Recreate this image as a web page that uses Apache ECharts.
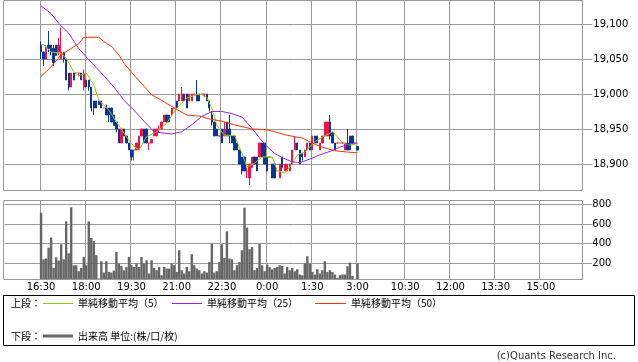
<!DOCTYPE html>
<html><head><meta charset="utf-8">
<script src="https://cdn.jsdelivr.net/npm/echarts@6/dist/echarts.min.js"></script>
<style>html,body{margin:0;padding:0;background:#fff}#c{width:638px;height:362px}</style>
</head><body><div id="c"></div>
<script>
// ---- data ----
const slotCount = 230;          // 5-minute slots on the x axis
const firstSlot = 14;           // slot of the 16:30 bar
const tickSlots = [14, 32, 50, 68, 86, 104, 122, 140, 159, 177, 195, 213];
const tickLabels = ['16:30','18:00','19:30','21:00','22:30','0:00','1:30','3:00','10:30','12:00','13:30','15:00'];
const priceTicks = [18900, 18950, 19000, 19050, 19100];
const volumeTicks = [200, 400, 600, 800];

const opens = [19070,19060,19050,19070,19070,19065,19070,19060,19050,19060,
 19050,19030,19010,19030,19030,19030,19030,19010,19020,19020,
 19010,18990,18990,18990,18990,18980,18980,18980,18980,18970,
 18960,18950,18930,18950,18940,18930,18920,18920,18920,18920,
 18940,18950,18950,18930,18930,18940,18940,18950,18950,18960,
 18970,18970,18970,18980,18990,18990,18990,19000,19000,18990,
 18990,19000,19000,19000,19000,19000,19000,18990,18970,18960,
 18950,18940,18950,18940,18960,18950,18940,18940,18930,18920,
 18910,18910,18890,18880,18895,18910,18910,18910,18930,18930,
 18910,18910,18900,18900,18890,18880,18910,18890,18890,18890,
 18900,18920,18930,18920,18915,18910,18920,18930,18920,18940,
 18940,18920,18930,18940,18940,18960,18945,18930,18930,18930,
 18930,18920,18930,18940,18940,18930,18925];
const closes = [19060,19050,19065,19065,19060,19045,19055,19070,19060,19050,
 19020,19010,19030,19020,19030,19030,19020,19030,19010,19010,
 18980,18980,18980,18985,18980,18980,18970,18970,18960,18955,
 18950,18930,18950,18940,18930,18920,18910,18920,18930,18940,
 18950,18930,18930,18930,18935,18950,18950,18950,18960,18970,
 18960,18960,18980,18980,18980,19000,19000,18990,18980,19000,
 19000,19000,18990,18990,19000,19000,18990,18980,18960,18940,
 18940,18940,18930,18950,18940,18940,18930,18920,18920,18900,
 18890,18890,18890,18900,18910,18900,18890,18930,18910,18900,
 18890,18910,18880,18880,18890,18900,18895,18900,18900,18900,
 18920,18930,18920,18900,18910,18920,18930,18920,18940,18930,
 18930,18930,18940,18960,18960,18940,18930,18920,18930,18930,
 18930,18930,18920,18920,18930,18930,18920];
const lows = [19050,19040,19050,19060,19055,19040,19055,19055,19050,19045,
 19020,19005,19010,19020,19030,19025,19020,19005,19010,19005,
 18975,18970,18980,18985,18980,18980,18970,18960,18960,18955,
 18945,18930,18930,18940,18930,18920,18905,18905,18920,18920,
 18940,18930,18930,18920,18930,18940,18940,18945,18950,18960,
 18960,18960,18970,18980,18980,18990,18990,18990,18980,18990,
 18990,19000,18990,18990,19000,18995,18990,18975,18955,18940,
 18940,18940,18930,18940,18940,18930,18930,18920,18920,18900,
 18885,18890,18880,18870,18895,18900,18890,18910,18910,18900,
 18890,18910,18880,18880,18890,18880,18890,18890,18890,18890,
 18900,18920,18920,18900,18905,18910,18920,18920,18920,18930,
 18930,18920,18930,18940,18940,18935,18930,18920,18930,18930,
 18930,18920,18920,18920,18930,18930,18920];
const highs = [19075,19060,19070,19090,19070,19070,19070,19080,19095,19060,
 19050,19030,19030,19030,19030,19030,19030,19035,19020,19020,
 19010,18990,18990,18990,18990,18980,18985,18980,18980,18970,
 18960,18950,18950,18950,18940,18930,18920,18920,18930,18940,
 18950,18950,18950,18930,18935,18950,18950,18955,18960,18970,
 18970,18970,18980,18980,18990,19000,19010,19000,19000,19000,
 19000,19000,19020,19000,19000,19000,19000,18990,18975,18960,
 18950,18940,18950,18960,18960,18970,18940,18940,18930,18920,
 18910,18910,18895,18900,18910,18910,18910,18930,18930,18930,
 18910,18910,18900,18900,18890,18900,18910,18900,18900,18900,
 18920,18940,18930,18920,18915,18920,18930,18930,18940,18940,
 18940,18930,18940,18960,18960,18970,18945,18930,18930,18930,
 18930,18930,18950,18940,18940,18930,18925];
const volumes = [715,237,245,357,459,149,258,224,391,237,
 626,299,770,176,176,115,149,262,176,626,
 456,422,279,40,217,101,217,108,101,122,
 313,193,169,125,159,262,176,159,193,159,
 262,193,227,91,227,149,125,159,74,159,
 142,142,193,176,108,330,125,91,159,115,
 289,176,142,125,91,115,101,210,398,101,
 115,210,391,251,524,245,237,125,176,210,
 330,766,562,340,364,125,149,398,176,115,
 183,159,135,149,159,176,169,91,159,125,
 149,115,135,81,74,193,268,193,108,81,
 135,91,125,217,108,125,108,81,47,74,
 81,81,166,203,67,30,193];
// moving averages read at sample bars: [bar index from 16:30, value]
const ma5 = [[0,19070],[1,19071],[4,19060],[8,19058],[10,19051],[13,19032],[15,19026],[18,19030],[21,19013],[23,18991],[27,18977],[30,18960],[34,18939],[37,18925],[39,18920],[42,18939],[46,18946],[50,18958],[54,18980],[58,18994],[62,18999],[64,18999],[66,18995],[68,18980],[70,18955],[73,18941],[77,18941],[80,18915],[82,18896],[85,18901],[88,18910],[92,18910],[94,18891],[97,18887],[100,18900],[102,18913],[105,18917],[109,18932],[112,18938],[116,18946],[118,18939],[120,18930],[123,18927],[126,18929]];
const ma25 = [[0,19126],[4,19115],[7,19101],[11,19087],[15,19065],[19,19049],[24,19030],[29,19010],[33,18991],[37,18977],[41,18961],[45,18946],[49,18944],[52,18943],[56,18946],[60,18956],[64,18968],[68,18975],[72,18975],[76,18972],[80,18967],[84,18951],[87,18937],[90,18925],[93,18915],[96,18909],[100,18903],[103,18902],[107,18907],[111,18913],[115,18918],[119,18924],[123,18929],[126,18930]];
const ma50 = [[0,19025],[4,19039],[8,19056],[12,19065],[15,19072],[17,19081],[23,19081],[25,19075],[28,19068],[31,19056],[33,19044],[37,19027],[41,19011],[44,18999],[48,18991],[53,18980],[58,18970],[64,18968],[66,18965],[72,18961],[77,18956],[84,18950],[90,18949],[98,18941],[104,18937],[108,18930],[112,18924],[117,18919],[122,18917],[126,18916]];

// ---- build ----
const categories = Array.from({length: slotCount}, (_, i) => 'b' + i);
const candleData = Array(slotCount).fill('-');
const volData = Array(slotCount).fill('-');
opens.forEach((o, i) => { candleData[firstSlot + i] = [o, closes[i], lows[i], highs[i]]; volData[firstSlot + i] = volumes[i]; });
const shift = pts => pts.map(([j, v]) => [firstSlot + j, v]);
const isTick = i => tickSlots.indexOf(i) >= 0;
const gridColor = '#9a9a9a';
const axisFont = {fontSize: 10, fontFamily: 'DejaVu Sans', color: '#000'};
const jp = '10px "Noto Sans CJK JP"';

const xBase = {
  type: 'category', data: categories, boundaryGap: true,
  axisLine: {show: false}, axisTick: {show: false},
  splitLine: {show: true, interval: (i) => isTick(i), lineStyle: {color: gridColor, width: 1}}
};
const chart = echarts.init(document.getElementById('c'), null, {renderer: 'canvas'});
chart.setOption({
  animation: false,
  backgroundColor: '#fff',
  grid: [
    {left: 4.64, top: 0.5, width: 577.67, height: 189.8},
    {left: 4.64, top: 200.5, width: 577.67, height: 79}
  ],
  xAxis: [
    Object.assign({}, xBase, {gridIndex: 0, axisLabel: {show: false}}),
    Object.assign({}, xBase, {gridIndex: 1, axisLabel: Object.assign({show: true, interval: (i) => isTick(i), margin: 3,
      formatter: (v, i) => tickLabels[tickSlots.indexOf(i)] || ''}, axisFont)})
  ],
  yAxis: [
    {type: 'value', gridIndex: 0, position: 'right', min: 18862.4, max: 19133.6, scale: true,
     axisLine: {show: false},
     axisTick: {show: true, length: 10, customValues: priceTicks, lineStyle: {color: gridColor}},
     axisLabel: Object.assign({customValues: priceTicks, margin: 11, formatter: v => v.toLocaleString('en-US')}, axisFont),
     splitLine: {show: true, lineStyle: {color: gridColor, width: 1}}},
    {type: 'value', gridIndex: 1, position: 'right', min: 30, max: 840,
     axisLine: {show: false},
     axisTick: {show: true, length: 10, customValues: volumeTicks, lineStyle: {color: gridColor}},
     axisLabel: Object.assign({customValues: volumeTicks, margin: 10}, axisFont),
     splitLine: {show: true, lineStyle: {color: gridColor, width: 1}}}
  ],
  series: [
    {type: 'candlestick', xAxisIndex: 0, yAxisIndex: 0, data: candleData, barWidth: 1.8, clip: true,
     itemStyle: {color: '#f0134a', color0: '#0a3699', borderColor: '#f0134a', borderColor0: '#0a3699', borderWidth: 1}},
    {type: 'line', xAxisIndex: 0, yAxisIndex: 0, data: shift(ma5), showSymbol: false, symbol: 'none', connectNulls: true, z: 4,
     lineStyle: {color: '#99cc00', width: 1}},
    {type: 'line', xAxisIndex: 0, yAxisIndex: 0, data: shift(ma25), showSymbol: false, symbol: 'none', connectNulls: true, z: 4,
     lineStyle: {color: '#9922ee', width: 1}},
    {type: 'line', xAxisIndex: 0, yAxisIndex: 0, data: shift(ma50), showSymbol: false, symbol: 'none', connectNulls: true, z: 4,
     lineStyle: {color: '#ff3300', width: 1}},
    {type: 'bar', xAxisIndex: 1, yAxisIndex: 1, data: volData, barWidth: 2.4, clip: true,
     itemStyle: {color: '#666666'}}
  ],
  graphic: [
    {type: 'rect', silent: true, z: 10, shape: {x: 3.5, y: 0.5, width: 579, height: 190}, style: {fill: 'none', stroke: gridColor, lineWidth: 1}},
    {type: 'rect', silent: true, z: 10, shape: {x: 3.5, y: 200.5, width: 579, height: 79}, style: {fill: 'none', stroke: gridColor, lineWidth: 1}},
    {type: 'rect', silent: true, shape: {x: 3.5, y: 295.5, width: 631, height: 50}, style: {fill: 'none', stroke: '#000', lineWidth: 1}},
    {type: 'text', x: 11, y: 303, style: {text: '上段：', font: jp, fill: '#000', verticalAlign: 'middle'}},
    {type: 'line', shape: {x1: 43, y1: 303.5, x2: 73, y2: 303.5}, style: {stroke: '#99cc00', lineWidth: 1}},
    {type: 'text', x: 78, y: 303, style: {text: '単純移動平均（5）', font: jp, fill: '#000', verticalAlign: 'middle'}},
    {type: 'line', shape: {x1: 172, y1: 303.5, x2: 202, y2: 303.5}, style: {stroke: '#9922ee', lineWidth: 1}},
    {type: 'text', x: 207, y: 303, style: {text: '単純移動平均（25）', font: jp, fill: '#000', verticalAlign: 'middle'}},
    {type: 'line', shape: {x1: 315, y1: 303.5, x2: 346, y2: 303.5}, style: {stroke: '#ff3300', lineWidth: 1}},
    {type: 'text', x: 351, y: 303, style: {text: '単純移動平均（50）', font: jp, fill: '#000', verticalAlign: 'middle'}},
    {type: 'text', x: 11, y: 336, style: {text: '下段：', font: jp, fill: '#000', verticalAlign: 'middle'}},
    {type: 'line', shape: {x1: 43, y1: 336, x2: 73, y2: 336}, style: {stroke: '#666666', lineWidth: 3}},
    {type: 'text', x: 78, y: 336, style: {text: '出来高 単位:(株/口/枚)', font: jp, fill: '#000', verticalAlign: 'middle'}},
    {type: 'text', x: 616, y: 356.5, style: {text: '(c)Quants Research Inc.', font: '10px "DejaVu Sans"', fill: '#333', align: 'right', verticalAlign: 'middle'}}
  ]
});
</script></body></html>
